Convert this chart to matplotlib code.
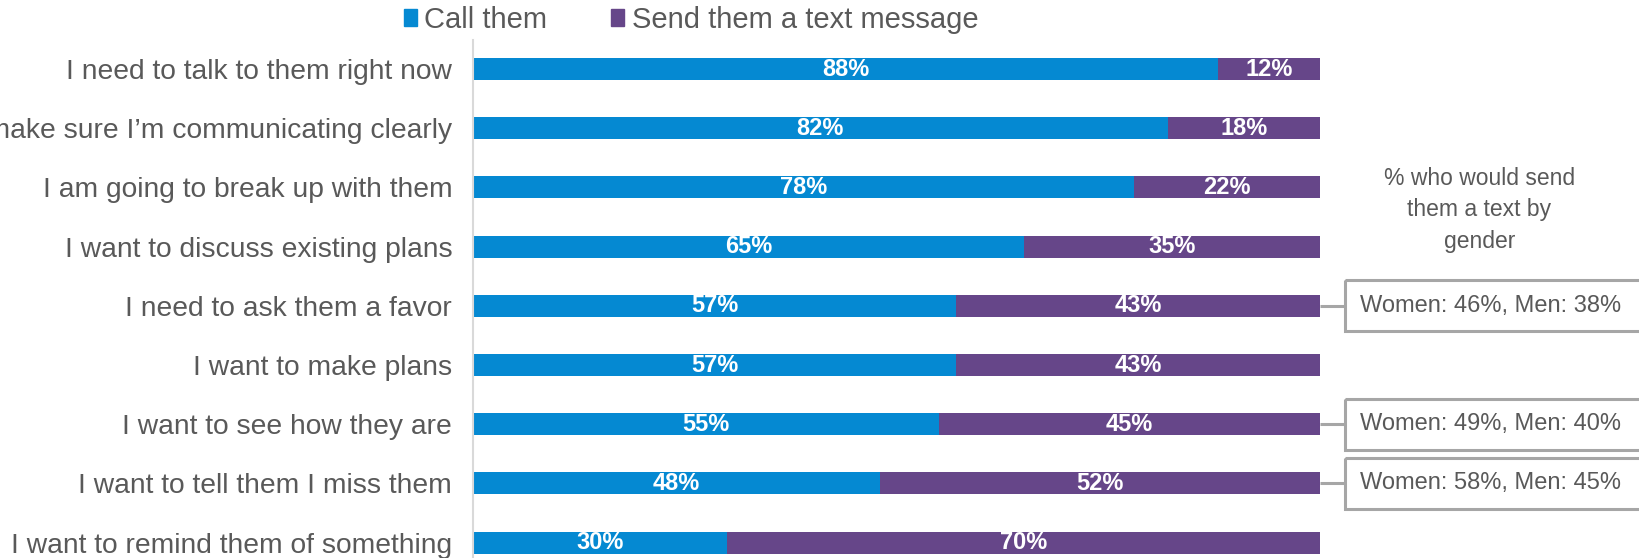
import matplotlib
matplotlib.use("Agg")
import matplotlib.pyplot as plt
from matplotlib.patches import Patch, Rectangle

plt.rcParams['font.family'] = ['Liberation Sans', 'DejaVu Sans']

# data
categories = [
    "I need to talk to them right now",
    "I want to make sure I\u2019m communicating clearly",
    "I am going to break up with them",
    "I want to discuss existing plans",
    "I need to ask them a favor",
    "I want to make plans",
    "I want to see how they are",
    "I want to tell them I miss them",
    "I want to remind them of something",
]
call_pct = [88, 82, 78, 65, 57, 57, 55, 48, 30]
text_pct = [12, 18, 22, 35, 43, 43, 45, 52, 70]

# gender split of "send a text", only for some rows
gender_rows = [4, 6, 7]
women_pct = [46, 49, 58]
men_pct = [38, 40, 45]

BLUE = '#0589D2'
PURPLE = '#664689'
GREY_TXT = '#595959'
BOX_EDGE = '#A6A6A6'

fig = plt.figure(figsize=(16.39, 5.58), dpi=100)
ax = fig.add_axes([473 / 1639, 0, (1320 - 473) / 1639, 1 - 40 / 558])

y = list(range(len(categories)))
bar_h = 0.37
ax.barh(y, call_pct, height=bar_h, color=BLUE, label='Call them')
ax.barh(y, text_pct, left=call_pct, height=bar_h, color=PURPLE,
        label='Send them a text message')

# percentage labels inside the bars
for i, (c, t) in enumerate(zip(call_pct, text_pct)):
    ax.text(c / 2, i, f"{c}%", ha='center', va='center', color='white',
            fontsize=17, fontweight='bold')
    ax.text(c + t / 2, i, f"{t}%", ha='center', va='center', color='white',
            fontsize=17, fontweight='bold')

ax.set_xlim(0, 100)
ax.set_ylim(8.26, -0.49)
ax.set_yticks(y)
ax.set_yticklabels(categories, fontsize=20.3, color=GREY_TXT)
ax.tick_params(axis='y', length=0, pad=15)
ax.set_xticks([])
for side in ['top', 'right', 'bottom']:
    ax.spines[side].set_visible(False)
ax.spines['left'].set_color('#D9D9D9')
ax.spines['left'].set_linewidth(1.5)

# callout title
ax.text(118.8, 2.38, "% who would send\nthem a text by\ngender", ha='center',
        va='center', fontsize=16.5, color=GREY_TXT, linespacing=1.45)

# callout boxes with connector lines
box_x0 = 103.0
box_h = 0.86
for r, w, m in zip(gender_rows, women_pct, men_pct):
    ax.plot([100, box_x0], [r, r], color=BOX_EDGE, lw=2.2, clip_on=False,
            solid_capstyle='butt')
    ax.add_patch(Rectangle((box_x0, r - box_h / 2), 45, box_h, fill=False,
                           edgecolor=BOX_EDGE, lw=2.2, clip_on=False))
    ax.text(box_x0 + 1.75, r, f"Women: {w}%, Men: {m}%", ha='left',
            va='center', fontsize=17, color=GREY_TXT)

handles = [Patch(color=BLUE, label='Call them'),
           Patch(color=PURPLE, label='Send them a text message')]
fig.legend(handles=handles, loc='center', bbox_to_anchor=(691 / 1639, 1 - 20 / 558),
           ncol=2, frameon=False, fontsize=21, handlelength=0.45,
           handleheight=0.5, handletextpad=0.25, columnspacing=2.2,
           labelcolor=GREY_TXT)

fig.savefig('out.png', dpi=100)
